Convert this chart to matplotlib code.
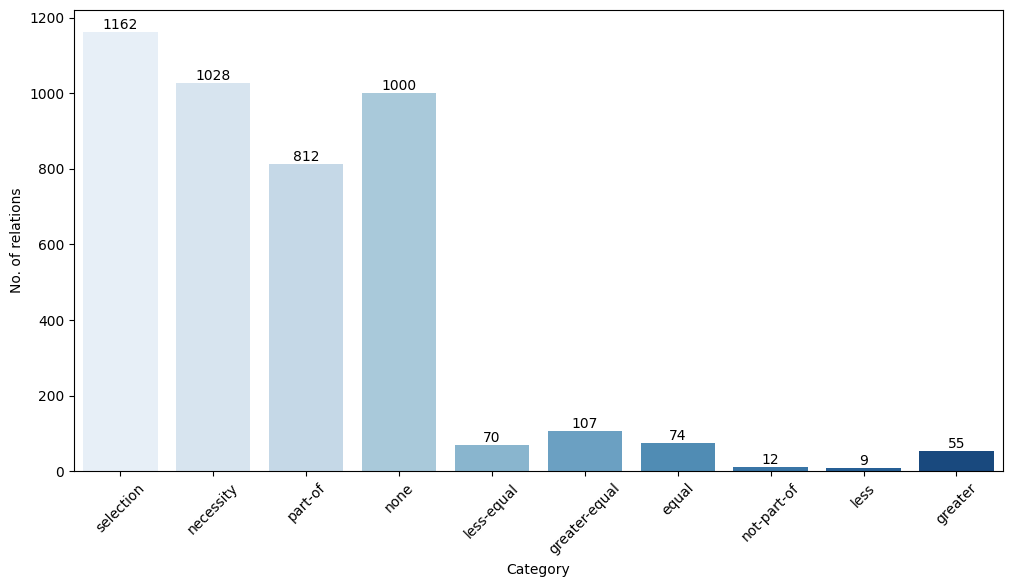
import matplotlib
matplotlib.use("Agg")
import matplotlib.pyplot as plt
import seaborn as sns

categories = ['selection', 'necessity', 'part-of', 'none', 'less-equal',
              'greater-equal', 'equal', 'not-part-of', 'less', 'greater']
counts = [1162, 1028, 812, 1000, 70, 107, 74, 12, 9, 55]

fig, ax = plt.subplots(figsize=(10.14, 5.87), dpi=100)
sns.barplot(x=categories, y=counts, hue=categories, palette='Blues', legend=False, ax=ax)

for container in ax.containers:
    ax.bar_label(container, fontsize=10)

ax.set_xlabel('Category')
ax.set_ylabel('No. of relations')
plt.xticks(rotation=45)
plt.subplots_adjust(left=0.073, right=0.989, top=0.983, bottom=0.197)
plt.savefig('out.png')
